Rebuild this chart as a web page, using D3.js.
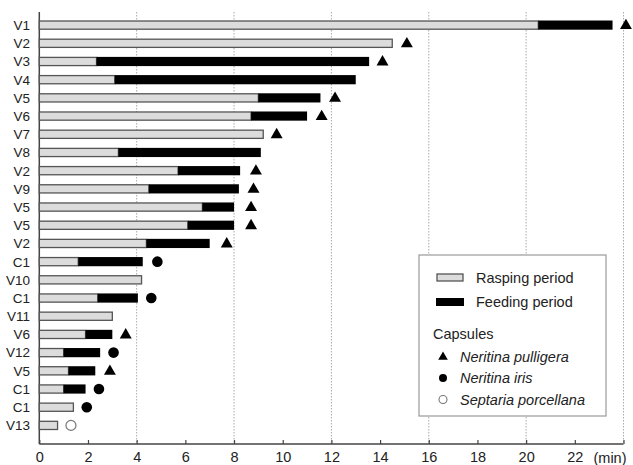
<!DOCTYPE html>
<html>
<head>
<meta charset="utf-8">
<script src="https://cdn.jsdelivr.net/npm/d3@7"></script>
<style>
body { margin: 0; background: #fff; }
svg { font-family: "Liberation Sans", Arial, sans-serif; }
</style>
</head>
<body>
<script>
// row labels, top to bottom
var labels = ["V1","V2","V3","V4","V5","V6","V7","V8","V2","V9","V5","V5","V2",
              "C1","V10","C1","V11","V6","V12","V5","C1","C1","V13"];
// end of rasping period (min)
var rasping = [20.5,14.5,2.35,3.1,9.0,8.7,9.2,3.25,5.7,4.5,6.7,6.1,4.4,
               1.6,4.2,2.4,3.0,1.9,1.0,1.2,1.0,1.4,0.75];
// end of feeding period (min), null = no feeding
var feeding = [23.55,null,13.55,13.0,11.55,11.0,null,9.1,8.25,8.2,8.0,8.0,7.0,
               4.25,null,4.05,null,3.0,2.5,2.3,1.9,null,null];
// capsule markers: species and position
var capsule = ["tri","tri","tri",null,"tri","tri","tri",null,"tri","tri","tri","tri","tri",
               "dot",null,"dot",null,"tri","dot","tri","dot","dot","open"];
var capsuleX = [24.1,15.1,14.1,null,12.15,11.6,9.75,null,8.9,8.8,8.7,8.7,7.7,
                4.85,null,4.6,null,3.55,3.05,2.9,2.45,1.95,1.3];
var xTicks = [0,2,4,6,8,10,12,14,16,18,20,22];
var gridTicks = [4,8,12,16,20,24];

var w = 633, h = 465;

var svg = d3.select("body").append("svg")
    .attr("width", w)
    .attr("height", h);

var x = d3.scaleLinear().domain([0, 24]).range([39.3, 623.5]);
var y = d3.scaleBand().domain(d3.range(labels.length))
    .range([16, 434.5])
    .paddingInner(0.55)
    .paddingOuter(0.275);

var axisY = 444;

// dotted grid
svg.append("g").selectAll("line")
    .data(gridTicks)
    .enter().append("line")
    .attr("x1", function(d){ return x(d); })
    .attr("x2", function(d){ return x(d); })
    .attr("y1", 12)
    .attr("y2", axisY)
    .attr("stroke", "#aaa")
    .attr("stroke-width", 1)
    .attr("stroke-dasharray", "1.5,1.5");

// x axis
var xAxis = d3.axisBottom(x).tickValues(xTicks.concat([24])).tickSizeInner(-4).tickSizeOuter(0)
    .tickPadding(8)
    .tickFormat(function(d){ return d == 24 ? "" : d; });
var gx = svg.append("g")
    .attr("transform", "translate(0," + axisY + ")")
    .call(xAxis);
gx.select(".domain").attr("stroke", "#444").attr("stroke-width", 1.5)
    .attr("d", "M" + x(0) + ",0H" + x(24));
gx.selectAll(".tick line").attr("stroke", "#444").attr("stroke-width", 1.2);
gx.selectAll(".tick text").attr("font-size", "14.5px").attr("fill", "#222")
    .attr("font-family", "Liberation Sans, Arial, sans-serif");

svg.append("text")
    .attr("x", x(24) + 3)
    .attr("y", axisY + 18.5)
    .attr("text-anchor", "end")
    .attr("font-size", "14.5px")
    .attr("fill", "#222")
    .text("(min)");

// y axis line
svg.append("line")
    .attr("x1", x(0)).attr("x2", x(0))
    .attr("y1", 12).attr("y2", axisY)
    .attr("stroke", "#444")
    .attr("stroke-width", 1.5);

svg.append("g").selectAll("text")
    .data(labels)
    .enter().append("text")
    .attr("x", 30)
    .attr("y", function(d, i){ return y(i) + y.bandwidth() / 2; })
    .attr("dy", "0.36em")
    .attr("text-anchor", "end")
    .attr("font-size", "13.5px")
    .attr("fill", "#222")
    .text(function(d){ return d; });

// rasping bars
svg.append("g").selectAll("rect")
    .data(rasping)
    .enter().append("rect")
    .attr("x", x(0))
    .attr("y", function(d, i){ return y(i); })
    .attr("width", function(d){ return x(d) - x(0); })
    .attr("height", y.bandwidth())
    .attr("fill", "#dcdcdc")
    .attr("stroke", "#555")
    .attr("stroke-width", 1.3);

// feeding bars
svg.append("g").selectAll("rect")
    .data(d3.range(labels.length).filter(function(i){ return feeding[i] != null; }))
    .enter().append("rect")
    .attr("x", function(i){ return x(rasping[i]); })
    .attr("y", function(i){ return y(i) - 0.5; })
    .attr("width", function(i){ return x(feeding[i]) - x(rasping[i]); })
    .attr("height", y.bandwidth() + 1)
    .attr("fill", "#000");

// capsule markers
var tri = d3.symbol().type(d3.symbolTriangle).size(62);
var marks = svg.append("g").selectAll("g")
    .data(d3.range(labels.length).filter(function(i){ return capsule[i] != null; }))
    .enter().append("g")
    .attr("transform", function(i){ return "translate(" + x(capsuleX[i]) + "," + (y(i) + y.bandwidth() / 2) + ")"; });

marks.each(function(i){
    var g = d3.select(this);
    if (capsule[i] == "tri") {
        g.append("path").attr("d", tri).attr("transform", "translate(0,0.5)").attr("fill", "#000");
    } else if (capsule[i] == "dot") {
        g.append("circle").attr("r", 5.3).attr("fill", "#000");
    } else {
        g.append("circle").attr("r", 5).attr("fill", "#fff").attr("stroke", "#777").attr("stroke-width", 1.2);
    }
});

// legend
var lg = svg.append("g");
lg.append("rect")
    .attr("x", 419).attr("y", 255)
    .attr("width", 187).attr("height", 161)
    .attr("fill", "#fff")
    .attr("stroke", "#999")
    .attr("stroke-width", 1.2);

lg.append("rect").attr("x", 437).attr("y", 274).attr("width", 26).attr("height", 7)
    .attr("fill", "#dcdcdc").attr("stroke", "#555").attr("stroke-width", 1.3);
lg.append("rect").attr("x", 436).attr("y", 298).attr("width", 28).attr("height", 8)
    .attr("fill", "#000");

var lgText = [
    {t: "Rasping period", x: 476, y: 278, it: false},
    {t: "Feeding period", x: 476, y: 302, it: false},
    {t: "Capsules", x: 433, y: 334, it: false},
    {t: "Neritina pulligera", x: 460, y: 357, it: true},
    {t: "Neritina iris", x: 460, y: 378, it: true},
    {t: "Septaria porcellana", x: 460, y: 400, it: true}
];
lg.selectAll("text.l").data(lgText).enter().append("text")
    .attr("x", function(d){ return d.x; })
    .attr("y", function(d){ return d.y; })
    .attr("dy", "0.36em")
    .attr("font-size", "14.5px")
    .attr("font-style", function(d){ return d.it ? "italic" : "normal"; })
    .attr("fill", "#222")
    .text(function(d){ return d.t; });

lg.append("path").attr("d", d3.symbol().type(d3.symbolTriangle).size(40))
    .attr("transform", "translate(443,357)").attr("fill", "#000");
lg.append("circle").attr("cx", 443).attr("cy", 378).attr("r", 4).attr("fill", "#000");
lg.append("circle").attr("cx", 443).attr("cy", 399.5).attr("r", 4)
    .attr("fill", "#fff").attr("stroke", "#777").attr("stroke-width", 1.1);
</script>
</body>
</html>
